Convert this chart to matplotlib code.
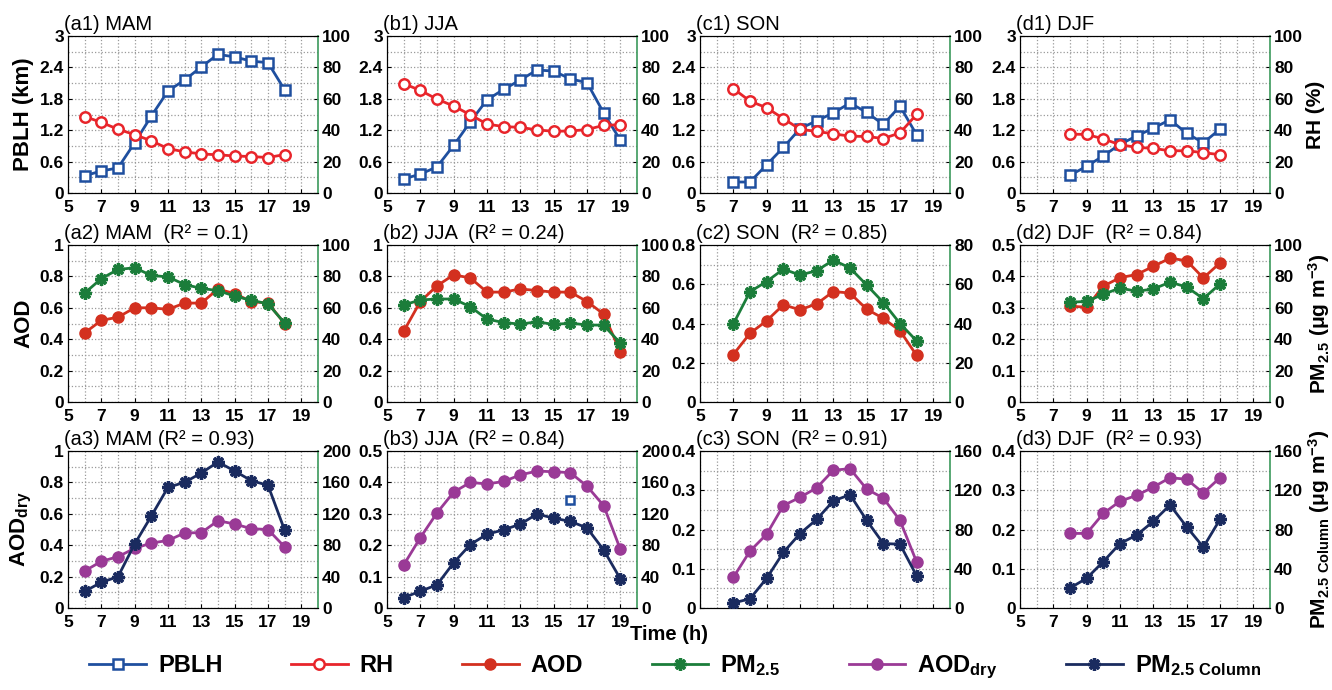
import matplotlib
matplotlib.use('Agg')
import matplotlib.pyplot as plt
from matplotlib.lines import Line2D
from matplotlib.ticker import MultipleLocator, FuncFormatter

plt.rcParams['font.family'] = ['Liberation Sans Narrow', 'Liberation Sans', 'DejaVu Sans']
plt.rcParams['font.weight'] = 'bold'
plt.rcParams['axes.labelweight'] = 'bold'
plt.rcParams['mathtext.fontset'] = 'custom'
plt.rcParams['mathtext.rm'] = 'Liberation Sans:bold'
plt.rcParams['mathtext.it'] = 'Liberation Sans:bold'
plt.rcParams['mathtext.bf'] = 'Liberation Sans:bold'

# hours of day per season
hours_mam = [6, 7, 8, 9, 10, 11, 12, 13, 14, 15, 16, 17, 18]
hours_jja = [6, 7, 8, 9, 10, 11, 12, 13, 14, 15, 16, 17, 18, 19]
hours_son = [7, 8, 9, 10, 11, 12, 13, 14, 15, 16, 17, 18]
hours_djf = [8, 9, 10, 11, 12, 13, 14, 15, 16, 17]

# row 1: PBLH (km) and RH (%)
pblh_mam = [0.33, 0.42, 0.48, 0.96, 1.47, 1.95, 2.16, 2.41, 2.65, 2.60, 2.52, 2.49, 1.97]
rh_mam = [48.7, 45.0, 40.6, 37.2, 33.2, 28.3, 26.2, 24.9, 24.3, 23.6, 23.2, 22.6, 24.5]
pblh_jja = [0.27, 0.36, 0.50, 0.91, 1.36, 1.78, 1.98, 2.16, 2.35, 2.33, 2.18, 2.11, 1.53, 1.01]
rh_jja = [69.7, 65.3, 59.8, 55.4, 49.8, 43.9, 42.3, 41.8, 40.2, 39.3, 39.5, 40.4, 43.1, 43.5]
pblh_son = [0.21, 0.21, 0.54, 0.87, 1.23, 1.38, 1.53, 1.72, 1.54, 1.31, 1.66, 1.11]
rh_son = [66.5, 58.5, 54.3, 47.4, 40.6, 39.2, 37.7, 36.2, 36.0, 34.7, 38.3, 50.1]
pblh_djf = [0.34, 0.51, 0.71, 0.93, 1.09, 1.24, 1.40, 1.14, 0.96, 1.22]
rh_djf = [37.5, 37.3, 34.5, 30.7, 29.1, 28.4, 26.9, 26.9, 25.7, 24.4]

# row 2: AOD and surface PM2.5
aod_mam = [0.44, 0.52, 0.54, 0.60, 0.60, 0.59, 0.63, 0.63, 0.72, 0.69, 0.64, 0.63, 0.50]
pm25_mam = [69.4, 78.6, 84.4, 85.5, 80.6, 79.7, 74.8, 72.4, 70.9, 67.5, 64.7, 62.6, 50.2]
aod_jja = [0.45, 0.64, 0.74, 0.81, 0.79, 0.70, 0.70, 0.72, 0.71, 0.70, 0.70, 0.64, 0.56, 0.32]
pm25_jja = [61.8, 65.0, 65.6, 65.6, 60.7, 52.8, 50.6, 49.6, 51.1, 49.4, 50.2, 49.1, 48.9, 37.5]
aod_son = [0.242, 0.35, 0.414, 0.495, 0.47, 0.50, 0.563, 0.555, 0.473, 0.426, 0.363, 0.237]
pm25_son = [39.8, 56.2, 61.4, 67.7, 64.7, 66.9, 72.3, 68.3, 59.6, 50.7, 40.0, 31.1]
aod_djf = [0.305, 0.302, 0.369, 0.396, 0.406, 0.432, 0.458, 0.45, 0.395, 0.443]
pm25_djf = [63.5, 64.1, 68.6, 72.6, 70.5, 72.0, 76.3, 73.3, 65.8, 75.2]

# row 3: dry AOD and column PM2.5
aoddry_mam = [0.236, 0.297, 0.327, 0.38, 0.414, 0.43, 0.478, 0.48, 0.556, 0.535, 0.505, 0.50, 0.389]
pmcol_mam = [21.2, 32.7, 39.9, 81.5, 117.2, 153.7, 160.1, 172.0, 186.0, 174.5, 162.2, 156.3, 99.0]
aoddry_jja = [0.137, 0.224, 0.303, 0.369, 0.40, 0.395, 0.403, 0.424, 0.436, 0.434, 0.431, 0.388, 0.326, 0.187]
pmcol_jja = [13.2, 21.4, 29.5, 57.7, 80.8, 94.0, 99.6, 106.8, 119.7, 114.5, 110.3, 102.1, 73.9, 37.2]
aoddry_son = [0.078, 0.145, 0.188, 0.261, 0.282, 0.306, 0.351, 0.355, 0.303, 0.280, 0.223, 0.117]
pmcol_son = [5.1, 9.4, 30.3, 56.6, 75.8, 90.3, 109.1, 115.5, 89.3, 65.7, 65.0, 32.7]
aoddry_djf = [0.19, 0.19, 0.241, 0.272, 0.287, 0.308, 0.332, 0.328, 0.293, 0.332]
pmcol_djf = [20.3, 30.3, 47.3, 65.7, 74.3, 88.3, 105.0, 82.7, 62.0, 90.3]

# stray PBLH-style marker visible in panel b3 (hour, left-axis value)
stray_b3_hour = [16]
stray_b3_value = [0.344]

titles = [
    ['(a1) MAM', '(b1) JJA', '(c1) SON', '(d1) DJF'],
    ['(a2) MAM  (R² = 0.1)', '(b2) JJA  (R² = 0.24)', '(c2) SON  (R² = 0.85)', '(d2) DJF  (R² = 0.84)'],
    ['(a3) MAM (R² = 0.93)', '(b3) JJA  (R² = 0.84)', '(c3) SON  (R² = 0.91)', '(d3) DJF  (R² = 0.93)'],
]

C_PBLH = '#1f4f9f'
C_RH = '#e8252b'
C_AOD = '#d3301f'
C_PM = '#1b7d3a'
C_DRY = '#9a3a96'
C_COL = '#1a2b5f'
C_SPINE = '#3c9a5c'

W, H = 1332, 690
col_left = [68, 387, 700, 1020]
row_top = [36, 245, 451]
ax_w, ax_h = 250, 157

# (left max, left step, right max, right step) per panel
scales = [
    [(3, 0.6, 100, 20)] * 4,
    [(1, 0.2, 100, 20), (1, 0.2, 100, 20), (0.8, 0.2, 80, 20), (0.5, 0.1, 100, 20)],
    [(1, 0.2, 200, 40), (0.5, 0.1, 200, 40), (0.4, 0.1, 160, 40), (0.4, 0.1, 160, 40)],
]

hours = [hours_mam, hours_jja, hours_son, hours_djf]
left_series = [
    [pblh_mam, pblh_jja, pblh_son, pblh_djf],
    [aod_mam, aod_jja, aod_son, aod_djf],
    [aoddry_mam, aoddry_jja, aoddry_son, aoddry_djf],
]
right_series = [
    [rh_mam, rh_jja, rh_son, rh_djf],
    [pm25_mam, pm25_jja, pm25_son, pm25_djf],
    [pmcol_mam, pmcol_jja, pmcol_son, pmcol_djf],
]

sq = dict(color=C_PBLH, lw=2, marker='s', ms=6.5, mfc='white', mec=C_PBLH, mew=1.8)
circ_open = dict(color=C_RH, lw=2, marker='o', ms=7.5, mfc='white', mec=C_RH, mew=1.8)
circ_fill = dict(color=C_AOD, lw=2, marker='o', ms=8)
star_pm = dict(color=C_PM, lw=2, marker=(8, 2, 0), ms=9, mew=2.4)
circ_dry = dict(color=C_DRY, lw=2, marker='o', ms=8)
star_col = dict(color=C_COL, lw=2, marker=(8, 2, 0), ms=9, mew=2.4)
left_styles = [sq, circ_fill, circ_dry]
right_styles = [circ_open, star_pm, star_col]

left_labels = ['PBLH (km)', 'AOD', r'AOD$_{\mathrm{dry}}$']
right_labels = ['RH (%)', r'PM$_{2.5}$ (μg m$^{-3}$)', r'PM$_{2.5\ \mathrm{Column}}$ (μg m$^{-3}$)']

fmt = FuncFormatter(lambda v, pos: '%g' % round(v, 3))

fig = plt.figure(figsize=(W / 100, H / 100), dpi=100)

for r in range(3):
    for c in range(4):
        rect = [col_left[c] / W, (H - row_top[r] - ax_h) / H, ax_w / W, ax_h / H]
        ax = fig.add_axes(rect)
        ax2 = ax.twinx()
        lmax, lstep, rmax, rstep = scales[r][c]

        ax.plot(hours[c], left_series[r][c], **left_styles[r], zorder=3)
        ax2.plot(hours[c], right_series[r][c], **right_styles[r], zorder=3)
        if r == 2 and c == 1:
            ax.plot(stray_b3_hour, stray_b3_value, ls='none', marker='s', ms=6,
                    mfc='white', mec=C_PBLH, mew=1.8, zorder=3)

        ax.set_xlim(5, 20)
        ax.set_ylim(0, lmax)
        ax2.set_ylim(0, rmax)
        ax.xaxis.set_major_locator(MultipleLocator(2))
        ax.xaxis.set_minor_locator(MultipleLocator(1))
        ax.set_xticks(range(5, 20, 2))
        ax.yaxis.set_major_locator(MultipleLocator(lstep))
        ax.yaxis.set_minor_locator(MultipleLocator(lstep / 2))
        ax2.yaxis.set_major_locator(MultipleLocator(rstep))
        ax.yaxis.set_major_formatter(fmt)
        ax2.yaxis.set_major_formatter(fmt)
        ax.grid(which='both', color='#9a9a9a', ls=':', lw=0.9)
        ax.set_axisbelow(True)

        for a in (ax, ax2):
            a.tick_params(which='both', direction='in', length=3, width=0.8,
                          labelsize=12.5, pad=3)
            a.tick_params(which='minor', length=0)
        ax.tick_params(axis='x', pad=5)
        if r == 2 and c == 2:
            # hidden under the shared time label in the original
            ax.tick_params(axis='x', labelbottom=False)
        ax2.spines['right'].set_color(C_SPINE)
        ax2.spines['right'].set_linewidth(1.2)
        ax.spines['right'].set_visible(False)

        ax.set_title(titles[r][c], loc='left', fontsize=14.5, fontweight='normal', pad=4,
                     x=-0.015)
        if c == 0:
            ax.set_ylabel(left_labels[r], fontsize=16, labelpad=4)
        if c == 3:
            ax2.set_ylabel(right_labels[r], fontsize=15, labelpad=2)

fig.text(669 / W, 1 - 634 / H, 'Time (h)', ha='center', va='center', fontsize=14.5)

handles = [
    Line2D([], [], **sq),
    Line2D([], [], **circ_open),
    Line2D([], [], **circ_fill),
    Line2D([], [], **star_pm),
    Line2D([], [], **circ_dry),
    Line2D([], [], **star_col),
]
labels = ['PBLH', 'RH', 'AOD', r'PM$_{2.5}$', r'AOD$_{\mathrm{dry}}$', r'PM$_{2.5\ \mathrm{Column}}$']
fig.legend(handles, labels, loc='center left', ncol=6, mode='expand',
           bbox_to_anchor=(80 / W, 1 - 667 / H, 1190 / W, 0.0), frameon=False,
           fontsize=17, handlelength=2.4, handletextpad=0.5, borderaxespad=0)

fig.savefig('out.png', dpi=100)
